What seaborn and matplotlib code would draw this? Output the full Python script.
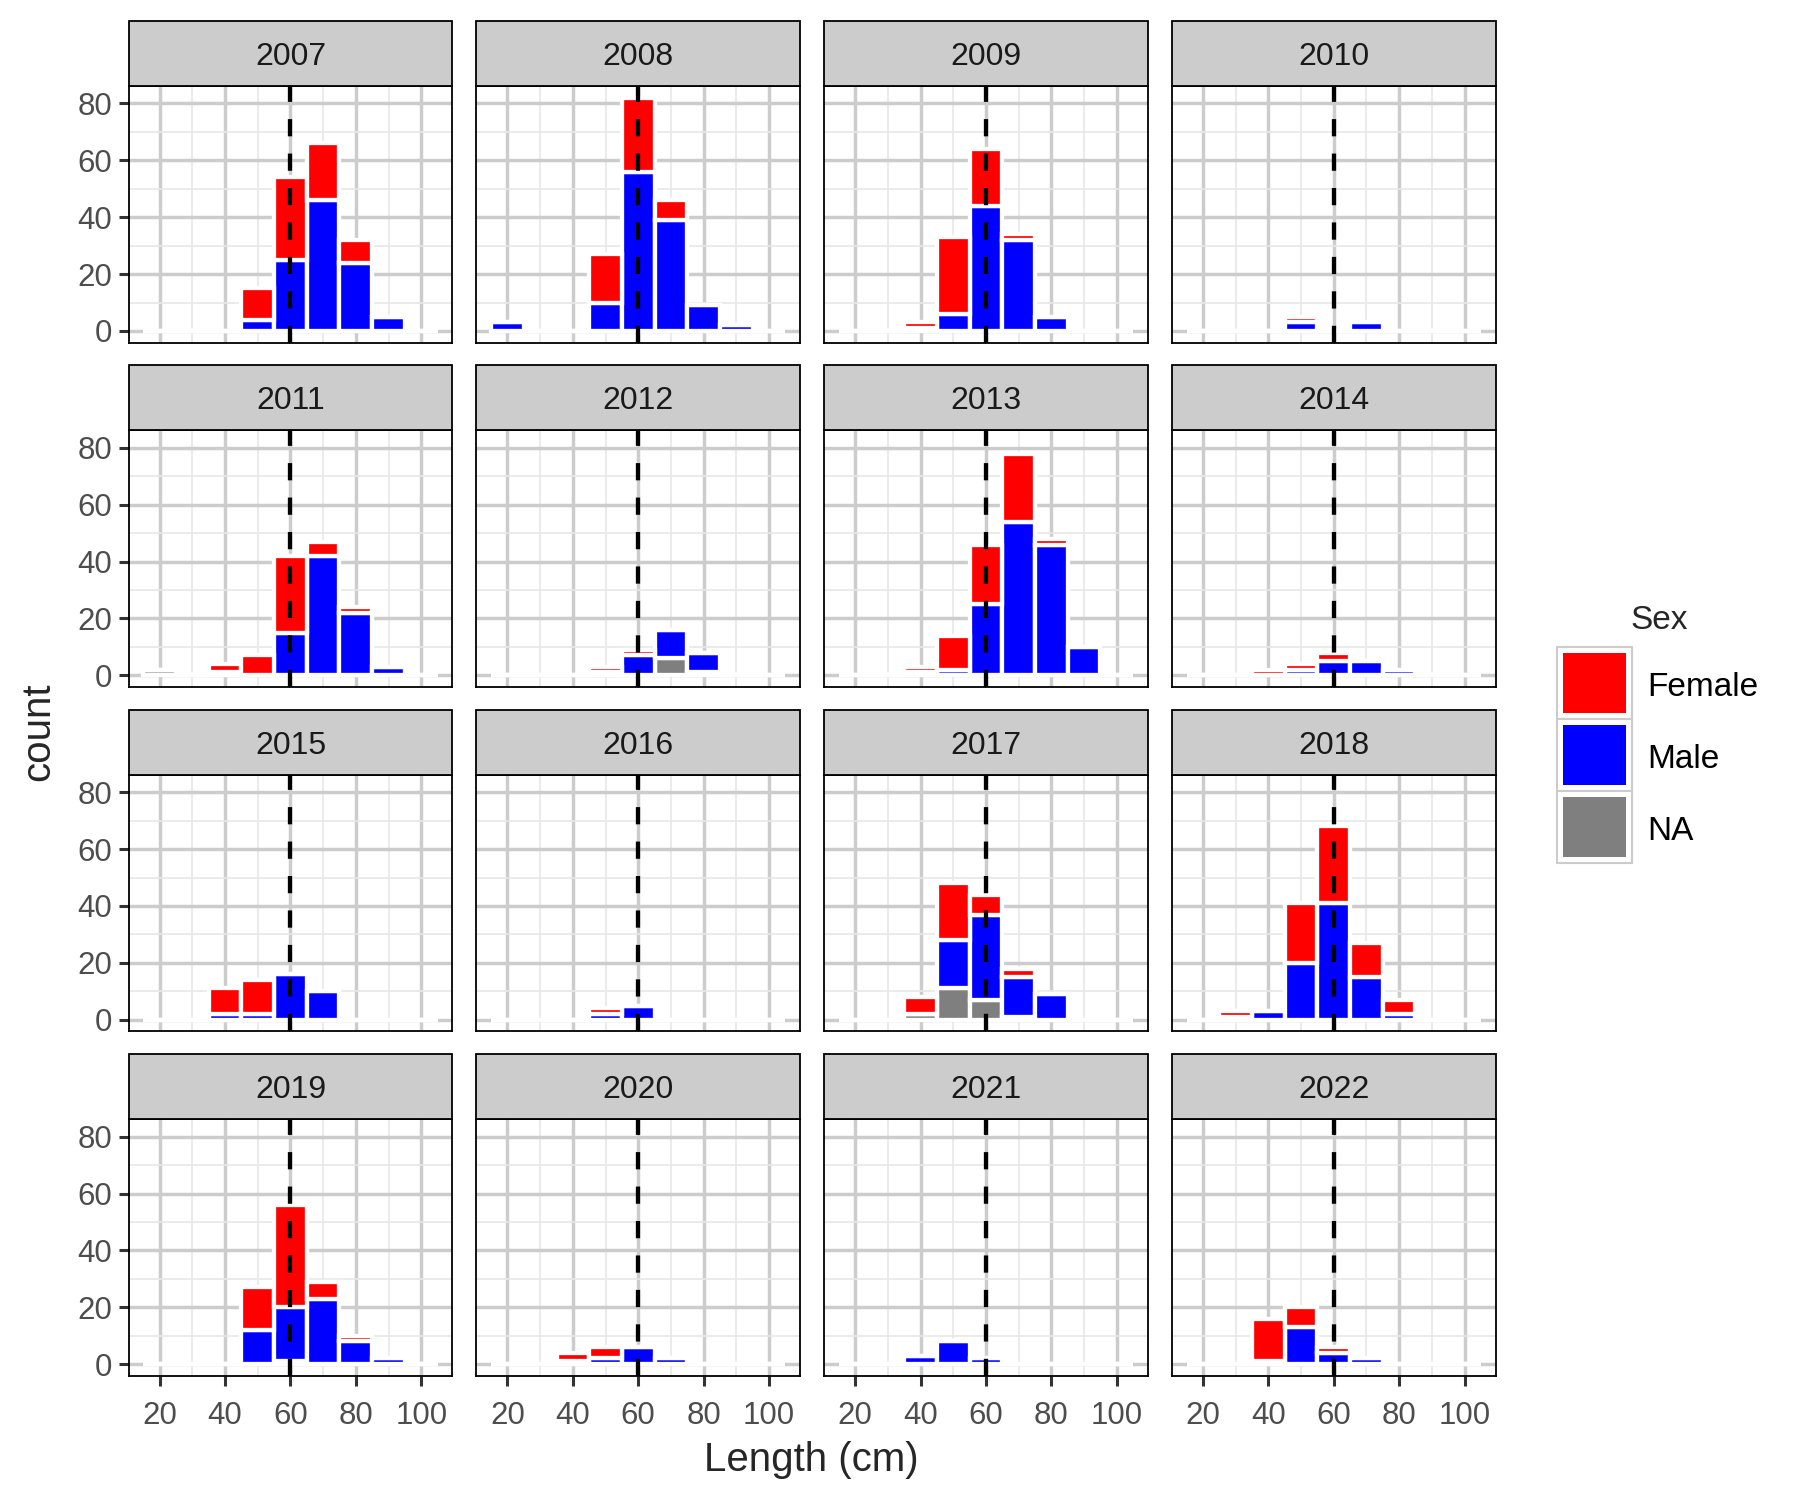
import numpy as np
import pandas as pd
import matplotlib
matplotlib.use("Agg")
import matplotlib.pyplot as plt
import seaborn as sns
from matplotlib.patches import Rectangle

# ---------------- data (counts per 10 cm length bin) ----------------
years = [2007, 2008, 2009, 2010, 2011, 2012, 2013, 2014,
         2015, 2016, 2017, 2018, 2019, 2020, 2021, 2022]
bin_centers = [20, 30, 40, 50, 60, 70, 80, 90, 100]
bin_edges = [15, 25, 35, 45, 55, 65, 75, 85, 95, 105]

female_counts = [
    [0, 0, 0, 11, 29, 20, 8, 0, 0],   # 2007
    [0, 0, 0, 17, 26, 7, 0, 0, 0],    # 2008
    [0, 0, 2, 27, 20, 2, 0, 0, 0],    # 2009
    [0, 0, 0, 2, 0, 0, 0, 0, 0],      # 2010
    [0, 0, 3, 7, 27, 5, 2, 0, 0],     # 2011
    [0, 0, 0, 2, 2, 0, 0, 0, 0],      # 2012
    [0, 0, 2, 12, 21, 24, 2, 0, 0],   # 2013
    [0, 0, 2, 2, 3, 0, 0, 0, 0],      # 2014
    [0, 0, 9, 12, 0, 0, 0, 0, 0],     # 2015
    [0, 0, 0, 2, 0, 0, 0, 0, 0],      # 2016
    [0, 0, 6, 20, 7, 3, 0, 0, 0],     # 2017
    [0, 2, 0, 21, 27, 12, 5, 0, 0],   # 2018
    [0, 0, 0, 15, 36, 6, 2, 0, 0],    # 2019
    [0, 0, 3, 4, 0, 0, 0, 0, 0],      # 2020
    [0, 0, 0, 0, 0, 0, 0, 0, 0],      # 2021
    [0, 0, 15, 7, 2, 0, 0, 0, 0],     # 2022
]
male_counts = [
    [0, 0, 0, 4, 25, 46, 24, 5, 0],   # 2007
    [3, 0, 0, 10, 56, 39, 9, 2, 0],   # 2008
    [0, 0, 1, 6, 44, 32, 5, 0, 0],    # 2009
    [0, 0, 0, 3, 0, 3, 0, 0, 0],      # 2010
    [0, 0, 1, 0, 15, 42, 22, 3, 0],   # 2011
    [0, 0, 0, 1, 7, 10, 7, 0, 0],     # 2012
    [0, 0, 1, 2, 25, 54, 46, 10, 0],  # 2013
    [0, 0, 0, 2, 5, 5, 2, 0, 0],      # 2014
    [0, 0, 2, 2, 16, 10, 0, 0, 0],    # 2015
    [0, 0, 0, 2, 5, 0, 0, 0, 0],      # 2016
    [0, 0, 0, 17, 30, 14, 9, 0, 0],   # 2017
    [0, 1, 3, 20, 41, 15, 2, 0, 0],   # 2018
    [0, 0, 0, 12, 19, 23, 8, 2, 0],   # 2019
    [0, 0, 1, 2, 6, 2, 0, 0, 0],      # 2020
    [0, 0, 3, 8, 2, 0, 0, 0, 0],      # 2021
    [0, 0, 1, 13, 4, 2, 0, 0, 0],     # 2022
]
na_counts = [
    [0, 0, 0, 0, 0, 0, 0, 0, 0],      # 2007
    [0, 0, 0, 0, 0, 0, 0, 0, 0],      # 2008
    [0, 0, 0, 0, 0, 0, 0, 0, 0],      # 2009
    [0, 0, 0, 0, 0, 0, 0, 0, 0],      # 2010
    [2, 0, 0, 0, 0, 0, 0, 0, 0],      # 2011
    [0, 0, 0, 0, 0, 6, 1, 0, 0],      # 2012
    [0, 0, 0, 0, 0, 0, 0, 0, 0],      # 2013
    [0, 0, 0, 0, 0, 0, 0, 0, 0],      # 2014
    [0, 0, 0, 0, 0, 0, 0, 0, 0],      # 2015
    [0, 0, 0, 0, 0, 0, 0, 0, 0],      # 2016
    [0, 0, 2, 11, 7, 1, 0, 0, 0],     # 2017
    [0, 0, 0, 0, 0, 0, 0, 0, 0],      # 2018
    [0, 0, 0, 0, 1, 0, 0, 0, 0],      # 2019
    [0, 0, 0, 0, 0, 0, 0, 0, 0],      # 2020
    [0, 0, 0, 0, 0, 0, 0, 0, 0],      # 2021
    [0, 0, 0, 0, 0, 0, 0, 0, 0],      # 2022
]

sex_levels = ["Female", "Male", "NA"]
sex_colors = ["#FF0000", "#0000FF", "#7F7F7F"]
x_ticks = [20, 40, 60, 80, 100]
y_ticks = [0, 20, 40, 60, 80]
x_minor = [30, 50, 70, 90]
y_minor = [10, 30, 50, 70]
ref_length = 60

# ---------------- long table ----------------
rows = []
for yi, yr in enumerate(years):
    for sex, arr in zip(sex_levels, [female_counts, male_counts, na_counts]):
        for b, cnt in zip(bin_centers, arr[yi]):
            rows.append((yr, b, sex, cnt))
df = pd.DataFrame(rows, columns=["Year", "Length", "Sex", "Count"])

tot = (np.array(female_counts) + np.array(male_counts) + np.array(na_counts)).max()
ylim = (-0.05 * tot, 1.05 * tot)
span = bin_edges[-1] - bin_edges[0]
xlim = (bin_edges[0] - 0.05 * span, bin_edges[-1] + 0.05 * span)

# ---------------- style ----------------
sns.set_style("white")
plt.rcParams['font.family'] = ['Liberation Sans', 'DejaVu Sans']

W, H = 1800, 1500
fig = plt.figure(figsize=(18, 15), dpi=100)

col_left = [128.6, 476.4, 824.1, 1171.9]
pan_w = 323.7
row_top = [86.1, 430.5, 774.9, 1119.3]
pan_h = 256.5
strip_h = 65.0

palette = dict(zip(sex_levels, sex_colors))

for i, yr in enumerate(years):
    r, c = divmod(i, 4)
    ax = fig.add_axes([col_left[c] / W, 1 - (row_top[r] + pan_h) / H, pan_w / W, pan_h / H])
    sub = df[df["Year"] == yr]
    sns.histplot(data=sub, x="Length", weights="Count", hue="Sex",
                 hue_order=sex_levels, palette=palette, multiple="stack",
                 bins=bin_edges, edgecolor="white", linewidth=3.1, alpha=1,
                 legend=False, ax=ax)
    ax.axvline(ref_length, color="black", lw=3.1, linestyle=(0, (4, 4)), zorder=5)
    ax.set_xlim(*xlim)
    ax.set_ylim(*ylim)
    ax.set_xticks(x_ticks)
    ax.set_yticks(y_ticks)
    ax.set_xticks(x_minor, minor=True)
    ax.set_yticks(y_minor, minor=True)
    ax.grid(which="major", color="#CCCCCC", lw=2.5)
    ax.grid(which="minor", color="#E8E8E8", lw=1.2)
    ax.set_axisbelow(True)
    ax.set_xlabel("")
    ax.set_ylabel("")
    for s in ax.spines.values():
        s.set_color("black")
        s.set_linewidth(1.3)
        s.set_visible(True)
    ax.tick_params(which="minor", length=0)
    ax.tick_params(which="major", length=7, width=2.2, color="#333333",
                   labelsize=22.5, labelcolor="#4D4D4D", pad=5,
                   left=(c == 0), labelleft=(c == 0),
                   bottom=(r == 3), labelbottom=(r == 3))
    ax.tick_params(axis="x", pad=11)
    # facet strip
    sh = strip_h / pan_h
    ax.add_patch(Rectangle((0, 1), 1, sh, transform=ax.transAxes, clip_on=False,
                           facecolor="#CCCCCC", edgecolor="black", lw=1.3, zorder=10))
    ax.text(0.5, 1 + sh / 2 - 3.5 / pan_h, str(yr), transform=ax.transAxes, ha="center",
            va="center", fontsize=23, color="#1A1A1A", zorder=11)

# axis titles
fig.text(811.5 / W, 1 - 1460 / H, "Length (cm)", ha="center", va="center", fontsize=29)
fig.text(38 / W, 1 - 732 / H, "count", ha="center", va="center", fontsize=29, rotation=90)

# legend
fig.text(1630 / W, 1 - 621 / H, "Sex", ha="left", va="center", fontsize=24)
key_x, key_w, key_h = 1557, 75, 72
key_top0 = 647
for k, (lab, col) in enumerate(zip(sex_levels, sex_colors)):
    top = key_top0 + k * key_h
    fig.add_artist(Rectangle((key_x / W, 1 - (top + key_h) / H), key_w / W, key_h / H,
                             transform=fig.transFigure, facecolor="white",
                             edgecolor="#CCCCCC", lw=1.5))
    ins = 6
    fig.add_artist(Rectangle(((key_x + ins) / W, 1 - (top + key_h - ins) / H),
                             (key_w - 2 * ins) / W, (key_h - 2 * ins) / H,
                             transform=fig.transFigure, facecolor=col,
                             edgecolor="none"))
    fig.text(1647 / W, 1 - (top + key_h / 2 + 4.5) / H, lab, ha="left", va="center",
             fontsize=24, color="black")

fig.savefig("out.png", dpi=100)
